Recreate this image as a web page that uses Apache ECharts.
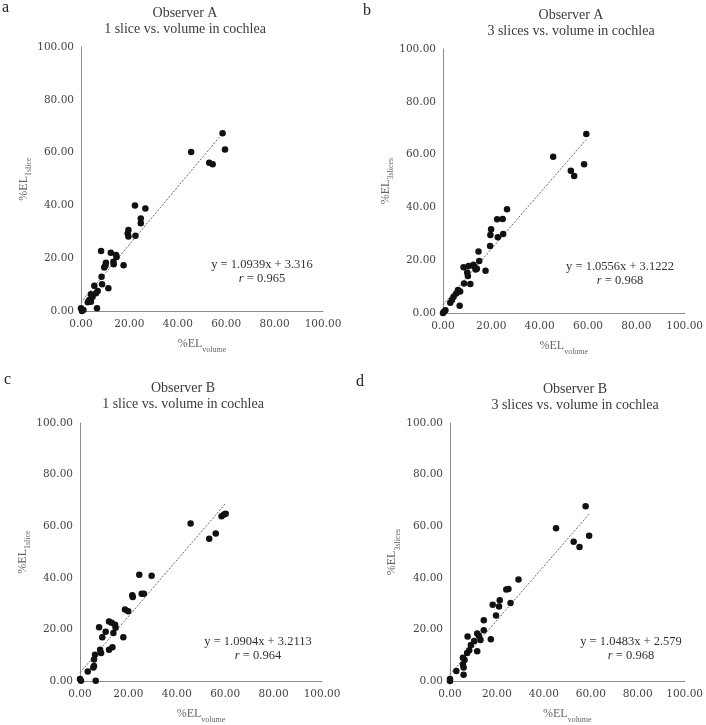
<!DOCTYPE html>
<html><head><meta charset="utf-8">
<script src="https://cdn.jsdelivr.net/npm/echarts@6/dist/echarts.min.js"></script>
<style>html,body{margin:0;padding:0;background:#fff}#c{width:706px;height:725px}</style>
</head><body><div id="c"></div>
<script>
// Panel a: Observer A, 1 slice vs volume
var aX = [58.5, 59.5, 45.5, 53.0, 54.4, 22.3, 26.6, 24.7, 24.7, 19.6, 19.3, 19.6, 22.5, 8.3, 12.3, 14.5, 14.7, 10.3, 10.1, 9.6, 13.4, 13.5, 17.6, 8.5, 5.5, 8.7, 11.3, 6.9, 6.2, 4.1, 4.8, 3.4, 2.8, 4.1, 6.6, 0.0, 0.4, 1.0];
var aY = [67.3, 61.2, 60.2, 56.2, 55.6, 40.0, 38.8, 35.0, 33.2, 30.7, 29.4, 28.2, 28.5, 22.7, 22.1, 21.2, 20.5, 18.3, 17.2, 16.5, 18.7, 17.7, 17.3, 13.0, 9.6, 10.1, 8.6, 7.6, 6.7, 6.3, 5.4, 4.2, 3.3, 3.5, 1.0, 1.0, 0.0, 0.4];
// Panel b: Observer A, 3 slices vs volume
var bX = [59.3, 58.4, 45.6, 52.9, 54.3, 26.5, 22.4, 24.7, 19.9, 19.6, 22.7, 24.9, 19.5, 14.7, 15.0, 8.5, 10.6, 12.6, 13.5, 17.6, 10.0, 10.3, 8.7, 11.3, 6.2, 7.1, 5.5, 4.4, 3.7, 3.0, 6.9, 0.4, 0.0, 1.0, 13.0, 14.0];
var bY = [67.8, 56.3, 59.2, 53.9, 51.9, 39.3, 35.5, 35.6, 31.7, 29.5, 28.7, 29.9, 25.4, 23.3, 19.7, 17.3, 17.8, 18.3, 16.5, 16.0, 15.3, 14.0, 11.2, 11.0, 8.7, 8.1, 7.4, 6.2, 4.9, 3.9, 2.7, 0.5, 0.0, 1.0, 17.5, 16.8];
// Panel c: Observer B, 1 slice vs volume
var cX = [59.5, 58.5, 60.2, 45.7, 56.1, 53.4, 24.5, 29.6, 21.6, 21.8, 25.5, 26.4, 18.6, 19.9, 12.0, 13.1, 14.5, 14.7, 7.9, 10.6, 13.8, 17.9, 9.2, 12.0, 13.4, 8.3, 8.7, 6.2, 5.8, 5.8, 5.5, 3.2, 6.5, 0.0, 0.4];
var cY = [64.5, 63.9, 64.8, 61.0, 57.2, 55.1, 41.2, 40.8, 33.2, 32.6, 33.8, 33.8, 27.7, 27.0, 23.1, 22.6, 21.8, 20.6, 20.8, 19.1, 18.6, 17.0, 17.0, 12.1, 13.1, 12.1, 10.9, 10.2, 8.3, 5.8, 5.2, 3.7, 0.1, 0.8, 0.1];
// Panel d: Observer B, 3 slices vs volume
var dX = [57.8, 59.3, 45.2, 52.7, 55.2, 29.2, 24.0, 24.9, 18.2, 21.2, 20.9, 25.8, 19.6, 14.4, 14.4, 7.5, 11.6, 12.3, 13.0, 10.3, 17.4, 8.9, 8.2, 11.6, 7.3, 5.5, 6.2, 5.5, 5.8, 2.7, 5.8, 0.0, 0.0];
var dY = [67.7, 56.3, 59.2, 54.0, 51.9, 39.3, 35.5, 35.7, 29.6, 31.3, 28.9, 30.2, 25.4, 23.5, 19.7, 17.2, 18.4, 17.5, 15.9, 15.5, 16.2, 14.0, 11.9, 11.5, 10.9, 9.0, 8.1, 6.4, 5.2, 3.9, 2.4, 0.8, 0.0];

var panelLetters = ['a', 'b', 'c', 'd'];
var observers = ['Observer A', 'Observer A', 'Observer B', 'Observer B'];
var comparisons = ['1 slice vs. volume in cochlea', '3 slices vs. volume in cochlea', '1 slice vs. volume in cochlea', '3 slices vs. volume in cochlea'];
var ySubs = ['1slice', '3slices', '1slice', '3slices'];
var slopes = [1.0939, 1.0556, 1.0904, 1.0483];
var intercepts = [3.316, 3.1222, 3.2113, 2.579];
var eqTexts = ['y = 1.0939x + 3.316', 'y = 1.0556x + 3.1222', 'y = 1.0904x + 3.2113', 'y = 1.0483x + 2.579'];
var rTexts = ['0.965', '0.968', '0.964', '0.968'];
var tickValues = [0, 20, 40, 60, 80, 100];

var xs = [aX, bX, cX, dX], ys = [aY, bY, cY, dY];

var grids = [
  {left: 81, top: 47, width: 242, height: 264},
  {left: 443, top: 49, width: 243, height: 264},
  {left: 80, top: 423, width: 242, height: 264},
  {left: 450, top: 423, width: 240, height: 264}
];
var titlePos = [[180, 0], [566, 2], [178, 375], [570, 376]];
var letterPos = [[2, 0], [363, 3], [4, 372], [356, 374]];
var eqPos = [[262, 258], [620, 260], [258, 635], [631, 635]];
var yNameGap = [49, 49, 49, 51];

var serif = '"Liberation Serif", "DejaVu Serif", serif';
var tickFont = '"DejaVu Serif", serif';

var option = {
  animation: false,
  backgroundColor: '#fff',
  title: [], grid: [], xAxis: [], yAxis: [], series: [], graphic: []
};

for (var i = 0; i < 4; i++) {
  option.grid.push(grids[i]);
  option.title.push({
    text: observers[i] + '\n' + comparisons[i],
    left: titlePos[i][0], top: titlePos[i][1], textAlign: 'center',
    textStyle: {fontFamily: serif, fontSize: 14, fontWeight: 'normal', color: '#3a3a3a', lineHeight: 16}
  });
  var axisLbl = {fontFamily: tickFont, fontSize: 10.5, color: '#444',
    formatter: function (v) { return v.toFixed(2); }};
  var nameRich = {
    a: {fontFamily: serif, fontSize: 12, color: '#666', lineHeight: 14},
    s: {fontFamily: serif, fontSize: 8, color: '#666', verticalAlign: 'bottom', lineHeight: 8, padding: [0, 0, -3, 0]}
  };
  option.xAxis.push({
    type: 'value', gridIndex: i, min: 0, max: 100, interval: 20,
    splitLine: {show: false}, axisTick: {show: false},
    axisLine: {lineStyle: {color: '#8c8c8c', width: 1}},
    axisLabel: Object.assign({margin: 8}, axisLbl),
    name: '{a|%EL}{s|volume}', nameLocation: 'middle', nameGap: 26,
    nameTextStyle: {rich: nameRich}
  });
  option.yAxis.push({
    type: 'value', gridIndex: i, min: 0, max: 100, interval: 20,
    splitLine: {show: false}, axisTick: {show: false},
    axisLine: {show: true, lineStyle: {color: '#8c8c8c', width: 1}},
    axisLabel: Object.assign({margin: 7}, axisLbl),
    name: '{a|%EL}{s|' + ySubs[i] + '}', nameLocation: 'middle', nameGap: yNameGap[i],
    nameTextStyle: {rich: nameRich}
  });
  var pts = xs[i].map(function (x, k) { return [x, ys[i][k]]; });
  option.series.push({
    type: 'scatter', xAxisIndex: i, yAxisIndex: i, data: pts,
    symbolSize: 6.5, itemStyle: {color: '#111', opacity: 1}, z: 3
  });
  var xmin = Math.min.apply(null, xs[i]), xmax = Math.max.apply(null, xs[i]);
  option.series.push({
    type: 'line', xAxisIndex: i, yAxisIndex: i, showSymbol: false, symbol: 'none',
    data: [[xmin, slopes[i] * xmin + intercepts[i]], [xmax, slopes[i] * xmax + intercepts[i]]],
    lineStyle: {color: '#555', width: 0.9, type: [2, 1.5]}, z: 2, silent: true
  });
  option.graphic.push({
    type: 'text', left: letterPos[i][0], top: letterPos[i][1],
    style: {text: panelLetters[i], font: '16px ' + serif, fill: '#222'}
  });
  option.graphic.push({
    type: 'text', x: eqPos[i][0], y: eqPos[i][1],
    style: {
      text: '{n|' + eqTexts[i] + '}\n{i|r}{n| = ' + rTexts[i] + '}',
      align: 'center', verticalAlign: 'top',
      rich: {
        n: {fontFamily: serif, fontSize: 12.5, fill: '#333', lineHeight: 14},
        i: {fontFamily: serif, fontSize: 12.5, fill: '#333', fontStyle: 'italic', lineHeight: 14}
      }
    }
  });
}

var chart = echarts.init(document.getElementById('c'), null, {renderer: 'canvas'});
chart.setOption(option);
</script>
</body></html>
